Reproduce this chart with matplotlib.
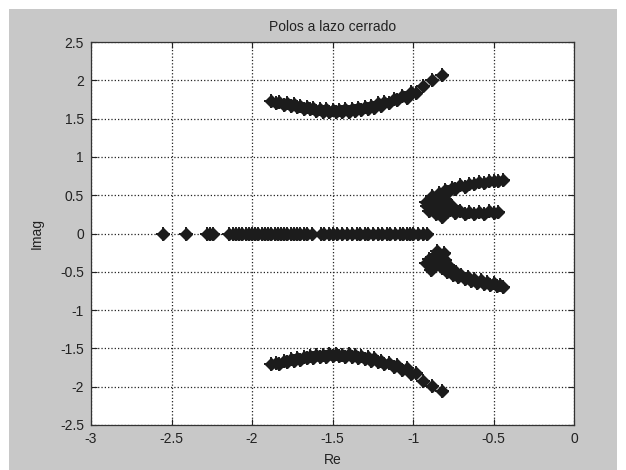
import matplotlib
matplotlib.use("Agg")
import matplotlib.pyplot as plt
from matplotlib.patches import Rectangle

plt.rcParams['font.family'] = ['Liberation Sans', 'DejaVu Sans']

title = "Polos a lazo cerrado"
xlabel = "Re"
ylabel = "Imag"
xticks = [-3, -2.5, -2, -1.5, -1, -0.5, 0]
yticks = [-2.5, -2, -1.5, -1, -0.5, 0, 0.5, 1, 1.5, 2, 2.5]
xtick_labels = ["-3", "-2.5", "-2", "-1.5", "-1", "-0.5", "0"]
ytick_labels = ["-2.5", "-2", "-1.5", "-1", "-0.5", "0", "0.5", "1", "1.5", "2", "2.5"]

# upper complex branch
upper_re = [-1.88, -1.85, -1.83, -1.80, -1.78, -1.76, -1.74, -1.72, -1.70, -1.68,
            -1.66, -1.64, -1.62, -1.60, -1.58, -1.56, -1.54, -1.52, -1.50, -1.48,
            -1.46, -1.44, -1.42, -1.40, -1.38, -1.36, -1.34, -1.32, -1.30, -1.28,
            -1.26, -1.24, -1.22, -1.20, -1.18, -1.15, -1.12, -1.10, -1.07, -1.04,
            -1.01, -0.98, -0.94, -0.88, -0.82]
upper_im = [1.73, 1.71, 1.72, 1.68, 1.70, 1.66, 1.69, 1.65, 1.67, 1.63,
            1.65, 1.62, 1.64, 1.60, 1.62, 1.59, 1.62, 1.58, 1.61, 1.58,
            1.61, 1.59, 1.62, 1.59, 1.63, 1.60, 1.64, 1.61, 1.65, 1.62,
            1.67, 1.64, 1.70, 1.66, 1.72, 1.71, 1.76, 1.74, 1.80, 1.77,
            1.85, 1.84, 1.93, 2.00, 2.07]

# lower complex branch
lower_re = [-1.88, -1.85, -1.83, -1.80, -1.78, -1.76, -1.74, -1.72, -1.70, -1.68,
            -1.66, -1.64, -1.62, -1.60, -1.58, -1.56, -1.54, -1.52, -1.50, -1.48,
            -1.46, -1.44, -1.42, -1.40, -1.38, -1.36, -1.34, -1.32, -1.30, -1.28,
            -1.26, -1.24, -1.22, -1.20, -1.18, -1.15, -1.12, -1.10, -1.07, -1.04,
            -1.01, -0.98, -0.94, -0.88, -0.82]
lower_im = [-1.71, -1.69, -1.70, -1.66, -1.68, -1.64, -1.67, -1.63, -1.65, -1.61,
            -1.63, -1.60, -1.62, -1.59, -1.61, -1.58, -1.61, -1.57, -1.60, -1.57,
            -1.60, -1.58, -1.61, -1.57, -1.61, -1.59, -1.63, -1.60, -1.64, -1.61,
            -1.66, -1.63, -1.68, -1.66, -1.70, -1.69, -1.74, -1.72, -1.78, -1.76,
            -1.83, -1.82, -1.92, -1.99, -2.06]

# right cluster, upper part
right_up_re = [-0.44, -0.47, -0.50, -0.53, -0.56, -0.59, -0.62, -0.65, -0.68, -0.71,
               -0.74, -0.76, -0.78, -0.80, -0.82, -0.84, -0.86, -0.88, -0.90, -0.92,
               -0.47, -0.50, -0.53, -0.56, -0.59, -0.62, -0.65, -0.68, -0.71, -0.74,
               -0.77, -0.79, -0.81, -0.83, -0.85, -0.87, -0.89, -0.82, -0.84, -0.80,
               -0.91, -0.90, -0.86, -0.78, -0.76]
right_up_im = [0.70, 0.69, 0.68, 0.69, 0.66, 0.67, 0.64, 0.65, 0.61, 0.63,
               0.58, 0.60, 0.54, 0.57, 0.50, 0.53, 0.46, 0.49, 0.43, 0.41,
               0.28, 0.27, 0.29, 0.26, 0.28, 0.25, 0.28, 0.26, 0.29, 0.27,
               0.31, 0.28, 0.34, 0.30, 0.37, 0.33, 0.39, 0.22, 0.42, 0.45,
               0.36, 0.30, 0.25, 0.40, 0.36]

# right cluster, lower part
right_lo_re = [-0.92, -0.90, -0.88, -0.86, -0.85, -0.84, -0.83, -0.82, -0.80, -0.79,
               -0.78, -0.76, -0.75, -0.73, -0.72, -0.70, -0.68, -0.66, -0.64, -0.62,
               -0.60, -0.58, -0.56, -0.54, -0.52, -0.50, -0.48, -0.46, -0.44, -0.89,
               -0.81]
right_lo_im = [-0.38, -0.33, -0.42, -0.27, -0.23, -0.36, -0.30, -0.45, -0.35, -0.50,
               -0.41, -0.47, -0.54, -0.50, -0.57, -0.54, -0.60, -0.57, -0.62, -0.59,
               -0.64, -0.61, -0.66, -0.63, -0.67, -0.65, -0.69, -0.67, -0.70, -0.48,
               -0.26]

# real-axis poles
real_re = [-2.55, -2.41, -2.28, -2.26, -2.24, -2.14, -2.12, -2.10, -2.08, -2.06,
           -2.04, -2.02, -2.00, -1.98, -1.96, -1.94, -1.92, -1.90, -1.88, -1.86,
           -1.84, -1.82, -1.80, -1.78, -1.76, -1.74, -1.72, -1.70, -1.68, -1.66,
           -1.63, -1.57, -1.55, -1.52, -1.50, -1.47, -1.44, -1.41, -1.38, -1.35,
           -1.33, -1.30, -1.28, -1.25, -1.22, -1.19, -1.16, -1.14, -1.11, -1.08,
           -1.06, -1.04, -1.02, -1.00, -0.97, -0.94, -0.91]
real_im = [0.0] * len(real_re)

W, H = 626, 470
fig = plt.figure(figsize=(W / 100, H / 100), dpi=100, facecolor='white')
bg = Rectangle((9 / W, 0), (617 - 9) / W, (H - 9) / H,
               transform=fig.transFigure, facecolor='#c8c8c8',
               edgecolor='none', zorder=-10)
fig.add_artist(bg)

ax = fig.add_axes([91 / W, (H - 425) / H, (574 - 91) / W, (425 - 42) / H])
ax.set_zorder(1)
ax.set_facecolor('white')

mk = dict(color='#1c1c1c', linestyle='none')
for re_, im_ in [(upper_re, upper_im), (lower_re, lower_im),
                 (right_up_re, right_up_im), (right_lo_re, right_lo_im),
                 (real_re, real_im)]:
    ax.plot(re_, im_, marker='D', markersize=6.3, **mk)
    ax.plot(re_, im_, marker='+', markersize=10, markeredgewidth=1.4, **mk)

ax.set_xlim(-3, 0)
ax.set_ylim(-2.5, 2.5)
ax.set_xticks(xticks)
ax.set_xticklabels(xtick_labels)
ax.set_yticks(yticks)
ax.set_yticklabels(ytick_labels)
ax.grid(True, linestyle=':', color='#222222', linewidth=0.9)
ax.tick_params(direction='in', top=True, right=True, length=4, width=0.8,
               labelsize=10, colors='#222222', pad=5)
for s in ax.spines.values():
    s.set_color('#333333')
    s.set_linewidth(0.9)

ax.set_title(title, fontsize=10, color='#222222', pad=8)
ax.set_xlabel(xlabel, fontsize=10, color='#222222', labelpad=5)
ax.set_ylabel(ylabel, fontsize=10, color='#222222', labelpad=12)

fig.savefig("out.png", dpi=100, facecolor=fig.get_facecolor())
